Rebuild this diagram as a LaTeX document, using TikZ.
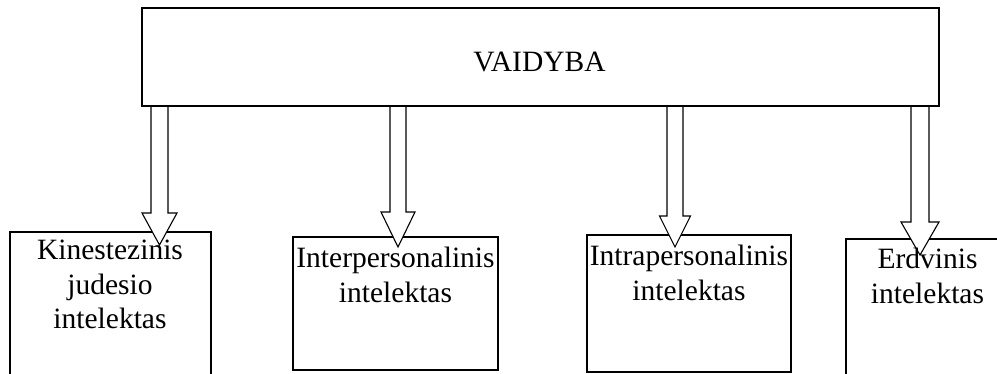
\documentclass[tikz,border=0pt]{standalone}
\usepackage{fontspec}
\setmainfont{Liberation Serif}
\usetikzlibrary{calc}
\tikzset{
  box/.style={draw=black, line width=1.1pt, fill=none},
  lbl/.style={inner sep=0pt, align=center, anchor=north, font=\fontsize{29.5}{34.5}\selectfont},
  blockarrow/.style={draw=black, fill=white, line width=1.1pt, line join=miter},
}
% #1 start coordinate, #2 tip coordinate, #3 half shaft width, #4 half head width, #5 head length
\newcommand{\myblockarrow}[5]{%
  \draw[blockarrow] ($(#1)+(-#3,0)$) -- ($(#2)+(-#3,-#5)$) -- ($(#2)+(-#4,-#5)$) -- (#2)
    -- ($(#2)+(#4,-#5)$) -- ($(#2)+(#3,-#5)$) -- ($(#1)+(#3,0)$);%
}
\begin{document}
\begin{tikzpicture}[x=1pt,y=-1pt]
\clip (0,0) rectangle (997,373);
\fill[white] (0,0) rectangle (997,373);
% bottom boxes
\draw[box] (10,232) rectangle (211,395) coordinate (b1se);
\coordinate (b1) at (110.5,232);
\draw[box] (293,237) rectangle (498,370);
\coordinate (b2) at (395.5,237);
\draw[box] (587,235) rectangle (791,372);
\coordinate (b3) at (689,235);
\draw[box] (846,239) rectangle (1010,395);
\coordinate (b4) at (921,239);
% arrow ends
\coordinate (a1s) at (159.5,106.6);
\coordinate (a1t) at (159.5,245);
\coordinate (a2s) at (398,106.6);
\coordinate (a2t) at (398,247);
\coordinate (a3s) at (675,106.6);
\coordinate (a3t) at (675,247);
\coordinate (a4s) at (920,106.6);
\coordinate (a4t) at (920,255);
\myblockarrow{a1s}{a1t}{8.5}{17.5}{32}
\myblockarrow{a2s}{a2t}{8}{17}{35}
\myblockarrow{a3s}{a3t}{8}{15.5}{31}
\myblockarrow{a4s}{a4t}{9}{19}{33}
% top box
\node[box, minimum width=797pt, minimum height=98pt, inner sep=0pt] (top) at (540.5,57) {};
\node[inner sep=0pt, font=\fontsize{29.5}{34.5}\selectfont] (toplbl) at (539.5,61.5) {VAIDYBA};
% labels
\node[lbl] (t1) at (110,240) {Kinestezinis\\judesio\\intelektas};
\node[lbl] (t2) at (395.5,247) {Interpersonalinis\\intelektas};
\node[lbl] (t3) at (689,245) {Intrapersonalinis\\intelektas};
\node[lbl] (t4) at (927.5,248) {Erdvinis\\intelektas};
\end{tikzpicture}
\end{document}
